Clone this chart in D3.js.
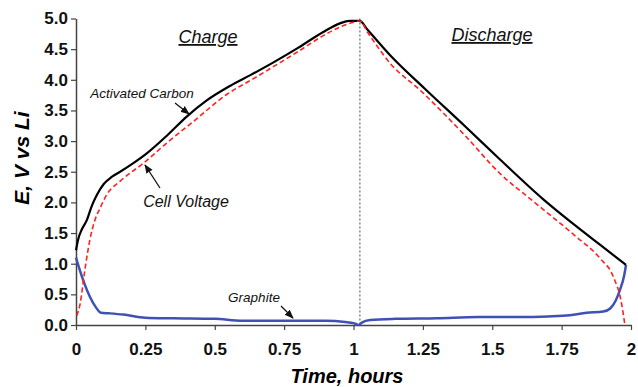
<!DOCTYPE html>
<html><head><meta charset="utf-8">
<script src="https://cdn.jsdelivr.net/npm/d3@7"></script>
<style>body{margin:0;background:#fff}svg{display:block;font-family:"Liberation Sans",Arial,sans-serif}</style>
</head><body><svg id="c" width="638" height="387"></svg>
<script>
const xTicks = [0, 0.25, 0.5, 0.75, 1, 1.25, 1.5, 1.75, 2];
const yTicks = [0, 0.5, 1, 1.5, 2, 2.5, 3, 3.5, 4, 4.5, 5];
const switchTime = 1.023;
// Activated carbon (black)
const carbonT = [0,0.008,0.02,0.039,0.055,0.075,0.10,0.13,0.159,0.20,0.255,0.33,0.399,0.47,0.555,0.63,0.71,0.80,0.891,0.951,0.985,1.023,1.05,1.132,1.258,1.40,1.528,1.684,1.80,1.888,1.982];
const carbonV = [1.22,1.40,1.55,1.71,1.92,2.12,2.30,2.42,2.50,2.62,2.80,3.10,3.40,3.66,3.90,4.08,4.28,4.52,4.78,4.92,4.96,4.96,4.82,4.40,3.85,3.25,2.70,2.05,1.62,1.31,0.98];
// Cell voltage (red dashed)
const cellT = [0.003,0.015,0.032,0.05,0.068,0.086,0.11,0.16,0.243,0.33,0.423,0.543,0.64,0.735,0.80,0.891,0.951,1.0,1.023,1.05,1.132,1.24,1.40,1.528,1.647,1.80,1.888,1.936,1.966,1.978];
const cellV = [0.15,0.35,0.90,1.39,1.71,1.90,2.12,2.35,2.64,2.98,3.32,3.76,4.02,4.28,4.46,4.72,4.86,4.94,4.96,4.78,4.27,3.83,3.10,2.47,2.02,1.45,1.09,0.79,0.35,0.0];
// Graphite (blue)
const graphT = [0,0.01,0.03,0.05,0.07,0.09,0.12,0.17,0.25,0.35,0.5,0.6,0.75,0.9,0.97,1.0,1.02,1.03,1.06,1.15,1.3,1.45,1.6,1.7,1.78,1.84,1.9,1.925,1.945,1.96,1.975,1.982];
const graphV = [1.1,0.95,0.68,0.46,0.30,0.20,0.19,0.17,0.12,0.11,0.10,0.07,0.07,0.07,0.05,0.03,0.0,0.04,0.08,0.10,0.11,0.13,0.13,0.14,0.16,0.20,0.22,0.27,0.40,0.57,0.80,0.98];

const svg = d3.select("#c");
const x = d3.scaleLinear().domain([0,2]).range([76,631]);
const y = d3.scaleLinear().domain([0,5]).range([325,18.5]);

const defs = svg.append("defs");
defs.append("marker").attr("id","ah").attr("viewBox","0 0 10 10").attr("refX",9).attr("refY",5)
  .attr("markerWidth",7).attr("markerHeight",7).attr("orient","auto")
  .append("path").attr("d","M0,1 L10,5 L0,9 Z").attr("fill","#111");

// axes
const xAxis = d3.axisBottom(x).tickValues(xTicks).tickSize(5).tickSizeOuter(0).tickFormat(d=>String(d));
const yAxis = d3.axisLeft(y).tickValues(yTicks).tickSize(5).tickSizeOuter(0).tickFormat(d3.format(".1f"));
const gx = svg.append("g").attr("transform","translate(0,325)").call(xAxis);
const gy = svg.append("g").attr("transform","translate(76,0)").call(yAxis);
[gx,gy].forEach(g=>{
  g.select(".domain").attr("stroke","#444").attr("stroke-width",1.5);
  g.selectAll(".tick line").attr("stroke","#444").attr("stroke-width",1.2);
  g.selectAll(".tick text").attr("fill","#111").style("font-size","17px").style("font-weight","bold")
   .style("font-family","'Liberation Sans',Arial,sans-serif");
});
gx.selectAll(".tick text").attr("dy","0").attr("y",30);
gy.selectAll(".tick text").attr("x",-8);

// dotted switch line
svg.append("line").attr("x1",x(switchTime)).attr("x2",x(switchTime)).attr("y1",y(5)).attr("y2",y(0))
  .attr("stroke","#666").attr("stroke-width",1.2).attr("stroke-dasharray","2,2");

const line = d3.line().x(d=>x(d[0])).y(d=>y(d[1])).curve(d3.curveMonotoneX);
svg.append("path").datum(graphT.map((t,i)=>[t,graphV[i]])).attr("d",line)
  .attr("fill","none").attr("stroke","#3f51b5").attr("stroke-width",2.5);
svg.append("path").datum(carbonT.map((t,i)=>[t,carbonV[i]])).attr("d",line)
  .attr("fill","none").attr("stroke","#000").attr("stroke-width",2.2);
svg.append("path").datum(cellT.map((t,i)=>[t,cellV[i]])).attr("d",line)
  .attr("fill","none").attr("stroke","#ff2020").attr("stroke-width",1.6).attr("stroke-dasharray","5,3");

// titles
svg.append("text").attr("x",347).attr("y",383).attr("text-anchor","middle")
  .style("font-size","20px").style("font-weight","bold").style("font-style","italic").text("Time, hours");
svg.append("text").attr("transform","translate(29,158) rotate(-90)").attr("text-anchor","middle")
  .style("font-size","21px").style("font-weight","bold").style("font-style","italic").text("E, V vs Li");

// phase labels
[["Charge",208,43],["Discharge",492,41]].forEach(([t,cx,cy])=>{
  svg.append("text").attr("x",cx).attr("y",cy).attr("text-anchor","middle")
    .style("font-size","18px").style("font-style","italic").attr("text-decoration","underline").attr("fill","#111").text(t);
});

// annotations
const ann = [["Activated Carbon",142,98,13.5,175,103,189,114],
             ["Cell Voltage",186,207,16,160,188,145,165],
             ["Graphite",254,302,13.5,281,306,293,318]];
ann.forEach(([t,tx,ty,fs,ax1,ay1,ax2,ay2])=>{
  svg.append("text").attr("x",tx).attr("y",ty).attr("text-anchor","middle")
    .style("font-size",fs+"px").style("font-style","italic").attr("fill","#111").text(t);
  svg.append("line").attr("x1",ax1).attr("y1",ay1).attr("x2",ax2).attr("y2",ay2)
    .attr("stroke","#111").attr("stroke-width",1.3).attr("marker-end","url(#ah)");
});
</script></body></html>
